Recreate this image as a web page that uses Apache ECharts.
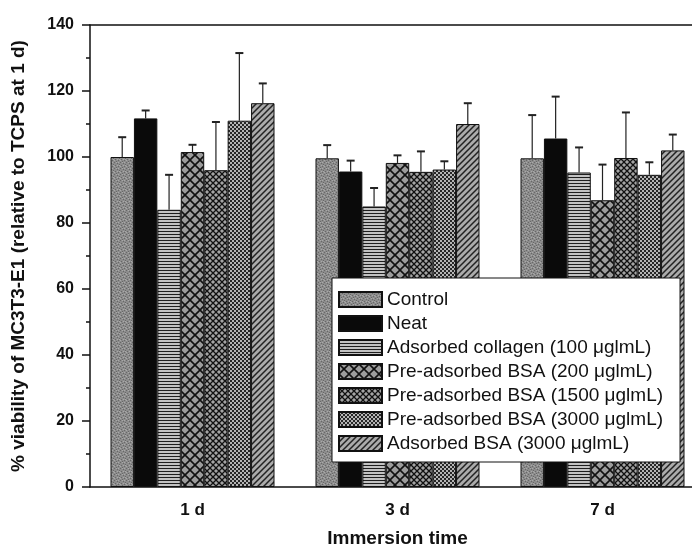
<!DOCTYPE html>
<html>
<head>
<meta charset="utf-8">
<title>MC3T3-E1 viability</title>
<script src="https://cdn.jsdelivr.net/npm/echarts@6/dist/echarts.min.js"></script>
<style>
  html, body { margin: 0; padding: 0; background: #fff; }
  #chart { width: 692px; height: 555px; }
</style>
</head>
<body>
<div id="chart"></div>
<script>
// categories (immersion time)
var days = ['1 d', '3 d', '7 d'];
var yTicks = [0, 20, 40, 60, 80, 100, 120, 140];

// group names, in legend order
var groups = [
    'Control',
    'Neat',
    'Adsorbed collagen (100 μglmL)',
    'Pre-adsorbed BSA (200 μglmL)',
    'Pre-adsorbed BSA (1500 μglmL)',
    'Pre-adsorbed BSA (3000 μglmL)',
    'Adsorbed BSA (3000 μglmL)'
];

// mean values (1 d, 3 d, 7 d)
var control   = [100, 99.6, 99.6];
var neat      = [111.7, 95.6, 105.6];
var collagen  = [84, 85, 95.3];
var bsa200    = [101.5, 98.2, 86.9];
var bsa1500   = [96, 95.5, 99.7];
var bsa3000   = [111, 96.2, 94.6];
var adsorbed  = [116.3, 110, 102];

// error bar (upper) sizes
var controlErr  = [6.0, 4.0, 13.1];
var neatErr     = [2.4, 3.3, 12.7];
var collagenErr = [10.6, 5.6, 7.6];
var bsa200Err   = [2.2, 2.3, 10.8];
var bsa1500Err  = [14.6, 6.2, 13.8];
var bsa3000Err  = [20.5, 2.5, 3.8];
var adsorbedErr = [6.0, 6.3, 4.8];

var means = [control, neat, collagen, bsa200, bsa1500, bsa3000, adsorbed];
var errs = [controlErr, neatErr, collagenErr, bsa200Err, bsa1500Err, bsa3000Err, adsorbedErr];

var FONT = 'Liberation Sans, Arial, sans-serif';

// fill patterns
function makePattern(w, h, draw) {
    var c = document.createElement('canvas');
    c.width = w; c.height = h;
    var ctx = c.getContext('2d');
    draw(ctx);
    return { image: c, repeat: 'repeat' };
}

var patterns = [
    // mottled grey
    makePattern(6, 6, function (ctx) {
        ctx.fillStyle = '#8c8c8c'; ctx.fillRect(0, 0, 6, 6);
        ctx.fillStyle = '#676767';
        [[0, 0], [3, 1], [1, 3], [4, 4], [2, 5], [5, 2]].forEach(function (p) { ctx.fillRect(p[0], p[1], 1, 1); });
        ctx.fillStyle = '#a8a8a8';
        [[2, 0], [5, 3], [0, 4], [3, 3], [4, 0]].forEach(function (p) { ctx.fillRect(p[0], p[1], 1, 1); });
    }),
    // solid black
    '#0a0a0a',
    // horizontal lines
    makePattern(4, 3, function (ctx) {
        ctx.fillStyle = '#c2c2c2'; ctx.fillRect(0, 0, 4, 3);
        ctx.fillStyle = '#1e1e1e'; ctx.fillRect(0, 0, 4, 1);
    }),
    // large cross hatch
    makePattern(10, 10, function (ctx) {
        ctx.fillStyle = '#9c9c9c'; ctx.fillRect(0, 0, 10, 10);
        ctx.strokeStyle = '#111'; ctx.lineWidth = 1.6;
        ctx.beginPath();
        ctx.moveTo(0, 0); ctx.lineTo(10, 10);
        ctx.moveTo(10, 0); ctx.lineTo(0, 10);
        ctx.stroke();
    }),
    // small cross hatch
    makePattern(6, 6, function (ctx) {
        ctx.fillStyle = '#a4a4a4'; ctx.fillRect(0, 0, 6, 6);
        ctx.strokeStyle = '#111'; ctx.lineWidth = 1.3;
        ctx.beginPath();
        ctx.moveTo(0, 0); ctx.lineTo(6, 6);
        ctx.moveTo(6, 0); ctx.lineTo(0, 6);
        ctx.stroke();
    }),
    // fine dots
    makePattern(4, 4, function (ctx) {
        ctx.fillStyle = '#262626'; ctx.fillRect(0, 0, 4, 4);
        ctx.fillStyle = '#b4b4b4';
        ctx.fillRect(0, 0, 2, 2); ctx.fillRect(2, 2, 2, 2);
    }),
    // diagonal lines
    makePattern(6, 6, function (ctx) {
        ctx.fillStyle = '#ababab'; ctx.fillRect(0, 0, 6, 6);
        ctx.strokeStyle = '#222'; ctx.lineWidth = 1.5;
        ctx.beginPath();
        ctx.moveTo(-1, 7); ctx.lineTo(7, -1);
        ctx.moveTo(-1, 1); ctx.lineTo(1, -1);
        ctx.moveTo(5, 7); ctx.lineTo(7, 5);
        ctx.stroke();
    })
];

var series = groups.map(function (name, i) {
    return {
        name: name,
        type: 'bar',
        xAxisIndex: 0,
        data: means[i],
        barGap: '0%',
        barCategoryGap: '20%',
        itemStyle: { color: patterns[i], borderColor: '#111', borderWidth: 1 },
        z: 2
    };
});

// error bars, one point per bar: [day index, mean, error, group index]
var errData = [];
groups.forEach(function (name, i) {
    days.forEach(function (d, j) {
        errData.push([j, means[i][j], errs[i][j], i]);
    });
});

series.push({
    name: 'err',
    type: 'custom',
    xAxisIndex: 0,
    data: errData,
    encode: { x: 0, y: 1 },
    z: 3,
    renderItem: function (params, api) {
        var base = api.coord([api.value(0), api.value(1)]);
        var top = api.coord([api.value(0), api.value(1) + api.value(2)]);
        var band = api.size([1, 0])[0];
        var bw = band * 0.8 / groups.length;
        var x = base[0] + (api.value(3) - (groups.length - 1) / 2) * bw;
        return {
            type: 'group',
            children: [
                { type: 'line', shape: { x1: x, y1: base[1], x2: x, y2: top[1] },
                  style: { stroke: '#222', lineWidth: 1.2 } },
                { type: 'line', shape: { x1: x - 4, y1: top[1], x2: x + 4, y2: top[1] },
                  style: { stroke: '#222', lineWidth: 2 } }
            ]
        };
    }
});

var chart = echarts.init(document.getElementById('chart'));
chart.setOption({
    animation: false,
    backgroundColor: '#fff',
    grid: { left: 90, right: -13, top: 25, bottom: 68, outerBoundsMode: 'none' },
    legend: {
        data: groups,
        orient: 'vertical',
        left: 332,
        top: 278,
        itemWidth: 43,
        itemHeight: 15,
        itemGap: 5,
        icon: 'rect',
        padding: [12, 17, 9, 6],
        backgroundColor: '#fff',
        borderColor: '#111',
        borderWidth: 1,
        borderRadius: 0,
        textStyle: { fontFamily: FONT, fontSize: 19, lineHeight: 16, color: '#111' }
    },
    xAxis: [{
        type: 'category',
        data: days,
        position: 'bottom',
        axisLine: { lineStyle: { color: '#111', width: 1.5 } },
        axisTick: { alignWithLabel: true, length: 7, lineStyle: { color: '#111', width: 1.5 } },
        axisLabel: { fontFamily: FONT, fontSize: 17, fontWeight: 'bold', color: '#111', margin: 15 },
        name: 'Immersion time',
        nameLocation: 'middle',
        nameGap: 42,
        nameTextStyle: { fontFamily: FONT, fontSize: 19, fontWeight: 'bold', color: '#111' }
    }, {
        type: 'category',
        data: days,
        position: 'bottom',
        axisLine: { show: false },
        axisTick: { length: 4, lineStyle: { color: '#111', width: 1.5 } },
        axisLabel: { show: false }
    }, {
        type: 'category',
        data: days,
        position: 'top',
        axisLine: { lineStyle: { color: '#111', width: 1.5 } },
        axisTick: { show: false },
        axisLabel: { show: false }
    }],
    yAxis: {
        type: 'value',
        min: yTicks[0],
        max: yTicks[yTicks.length - 1],
        interval: yTicks[1] - yTicks[0],
        axisLine: { show: true, lineStyle: { color: '#111', width: 1.5 } },
        axisTick: { show: true, length: 8, lineStyle: { color: '#111', width: 1.5 } },
        minorTick: { show: true, splitNumber: 2, length: 4, lineStyle: { color: '#111', width: 1.5 } },
        splitLine: { show: false },
        axisLabel: { fontFamily: FONT, fontSize: 16, fontWeight: 'bold', color: '#111', margin: 16 },
        name: '% viability of MC3T3-E1 (relative to TCPS at 1 d)',
        nameLocation: 'middle',
        nameGap: 62,
        nameTextStyle: { fontFamily: FONT, fontSize: 19, fontWeight: 'bold', color: '#111' }
    },
    series: series
});
</script>
</body>
</html>
